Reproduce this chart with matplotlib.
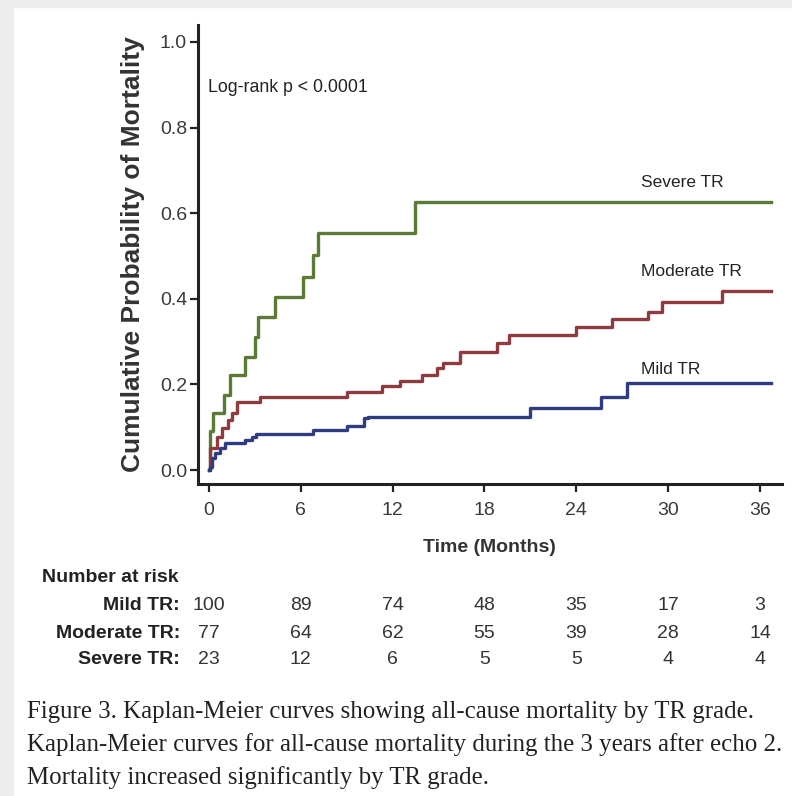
import matplotlib

matplotlib.use("Agg")
import matplotlib.pyplot as plt
import matplotlib.transforms as mtransforms
from matplotlib.patches import Rectangle

# Kaplan-Meier steps (months, cumulative probability)
severe_t = [0, 0.07, 0.28, 1.0, 1.37, 2.35, 3.0, 3.22, 4.31, 6.16, 6.8, 7.14, 13.46, 36.7]
severe_p = [0, 0.09, 0.133, 0.175, 0.222, 0.265, 0.311, 0.358, 0.405, 0.452, 0.502, 0.553, 0.626, 0.626]

moderate_t = [0, 0.07, 0.5, 0.83, 1.26, 1.48, 1.81, 3.33, 9.0, 11.3, 12.5, 13.9, 14.9,
              15.3, 16.4, 18.8, 19.6, 24.0, 26.3, 28.7, 29.6, 33.5, 36.7]
moderate_p = [0, 0.051, 0.077, 0.098, 0.117, 0.133, 0.159, 0.171, 0.183, 0.196, 0.209, 0.222, 0.238,
              0.25, 0.276, 0.296, 0.315, 0.335, 0.352, 0.37, 0.393, 0.418, 0.418]

mild_t = [0, 0.07, 0.18, 0.39, 0.72, 1.05, 2.35, 2.79, 3.1, 6.8, 9.0, 10.1, 10.4, 21.0, 25.6, 27.3, 36.7]
mild_p = [0, 0.008, 0.028, 0.039, 0.051, 0.063, 0.07, 0.078, 0.083, 0.093, 0.103, 0.121, 0.125,
          0.146, 0.171, 0.203, 0.203]

x_ticks = [0, 6, 12, 18, 24, 30, 36]
y_ticks = [0.0, 0.2, 0.4, 0.6, 0.8, 1.0]

risk_groups = ["Mild TR:", "Moderate TR:", "Severe TR:"]
risk_mild = [100, 89, 74, 48, 35, 17, 3]
risk_moderate = [77, 64, 62, 55, 39, 28, 14]
risk_severe = [23, 12, 6, 5, 5, 4, 4]

caption_lines = [
    "Figure 3. Kaplan-Meier curves showing all-cause mortality by TR grade.",
    "Kaplan-Meier curves for all-cause mortality during the 3 years after echo 2.",
    "Mortality increased significantly by TR grade.",
]

W, H = 792, 796
GREEN = "#5b7a35"
RED = "#8e3b3f"
BLUE = "#2f3d80"

plt.rcParams["font.family"] = ["Liberation Sans", "DejaVu Sans"]

fig = plt.figure(figsize=(W / 100, H / 100), dpi=100)
fig.patch.set_facecolor("white")

# light grey scan border on top and left
fig.patches.append(Rectangle((0, 1 - 7 / H), 1, 7 / H, transform=fig.transFigure,
                             color="#ededed", zorder=0))
fig.patches.append(Rectangle((0, 0), 13 / W, 1, transform=fig.transFigure,
                             color="#ededed", zorder=0))

left, right, top, bottom = 197.5, 782, 25, 483.5
ax = fig.add_axes([left / W, 1 - bottom / H, (right - left) / W, (bottom - top) / H])

ax.step(severe_t, severe_p, where="post", color=GREEN, linewidth=2.4)
ax.step(moderate_t, moderate_p, where="post", color=RED, linewidth=2.4)
ax.step(mild_t, mild_p, where="post", color=BLUE, linewidth=2.4)

ax.set_xlim(-0.75, 37.44)
ax.set_ylim(-0.0315, 1.0397)
ax.set_xticks(x_ticks)
ax.set_yticks(y_ticks)
ax.set_yticklabels([f"{v:.1f}" for v in y_ticks])

for side in ("top", "right"):
    ax.spines[side].set_visible(False)
for side in ("left", "bottom"):
    ax.spines[side].set_linewidth(2.2)
    ax.spines[side].set_color("#222222")

ax.tick_params(axis="y", length=6, width=1.6, pad=1.5, labelsize=14,
               labelcolor="#3a3a3a", color="#222222")
ax.tick_params(axis="x", length=5.5, width=1.6, pad=8, labelsize=14,
               labelcolor="#3a3a3a", color="#222222")

ax.set_ylabel("Cumulative Probability of Mortality", fontsize=19, fontweight="bold",
              color="#333333")
ax.yaxis.set_label_coords((133 - left) / (right - left), 0.5)
ax.yaxis.label.set_va("center")

ax.set_xlabel("Time (Months)", fontsize=14, fontweight="bold", color="#333333")
ax.xaxis.set_label_coords(0.5, (bottom - 547) / (bottom - top))
ax.xaxis.label.set_va("center")

ax.text(-0.07, 0.893, "Log-rank p < 0.0001", fontsize=12.8, color="#222222",
        ha="left", va="center")
ax.text(28.2, 0.671, "Severe TR", fontsize=12.5, color="#222222", ha="left", va="center")
ax.text(28.2, 0.463, "Moderate TR", fontsize=12.5, color="#222222", ha="left", va="center")
ax.text(28.2, 0.234, "Mild TR", fontsize=12.5, color="#222222", ha="left", va="center")

# number at risk table: x in data units, y in figure units
blend = mtransforms.blended_transform_factory(ax.transData, fig.transFigure)
fig.text(42 / W, 1 - 578 / H, "Number at risk", fontsize=14, fontweight="bold",
         color="#222222", ha="left", va="center")
row_y = [605, 633, 660]
for label, counts, py in zip(risk_groups, [risk_mild, risk_moderate, risk_severe], row_y):
    fig.text(180 / W, 1 - py / H, label, fontsize=14, fontweight="bold",
             color="#222222", ha="right", va="center")
    for t, n in zip(x_ticks, counts):
        ax.text(t, 1 - py / H, str(n), transform=blend, fontsize=14, color="#333333",
                ha="center", va="center", clip_on=False)

for line, py in zip(caption_lines, [712, 745, 778]):
    fig.text(27 / W, 1 - py / H, line, fontsize=17.9, family="Liberation Serif",
             color="#222222", ha="left", va="center")

fig.savefig("out.png", dpi=100)
